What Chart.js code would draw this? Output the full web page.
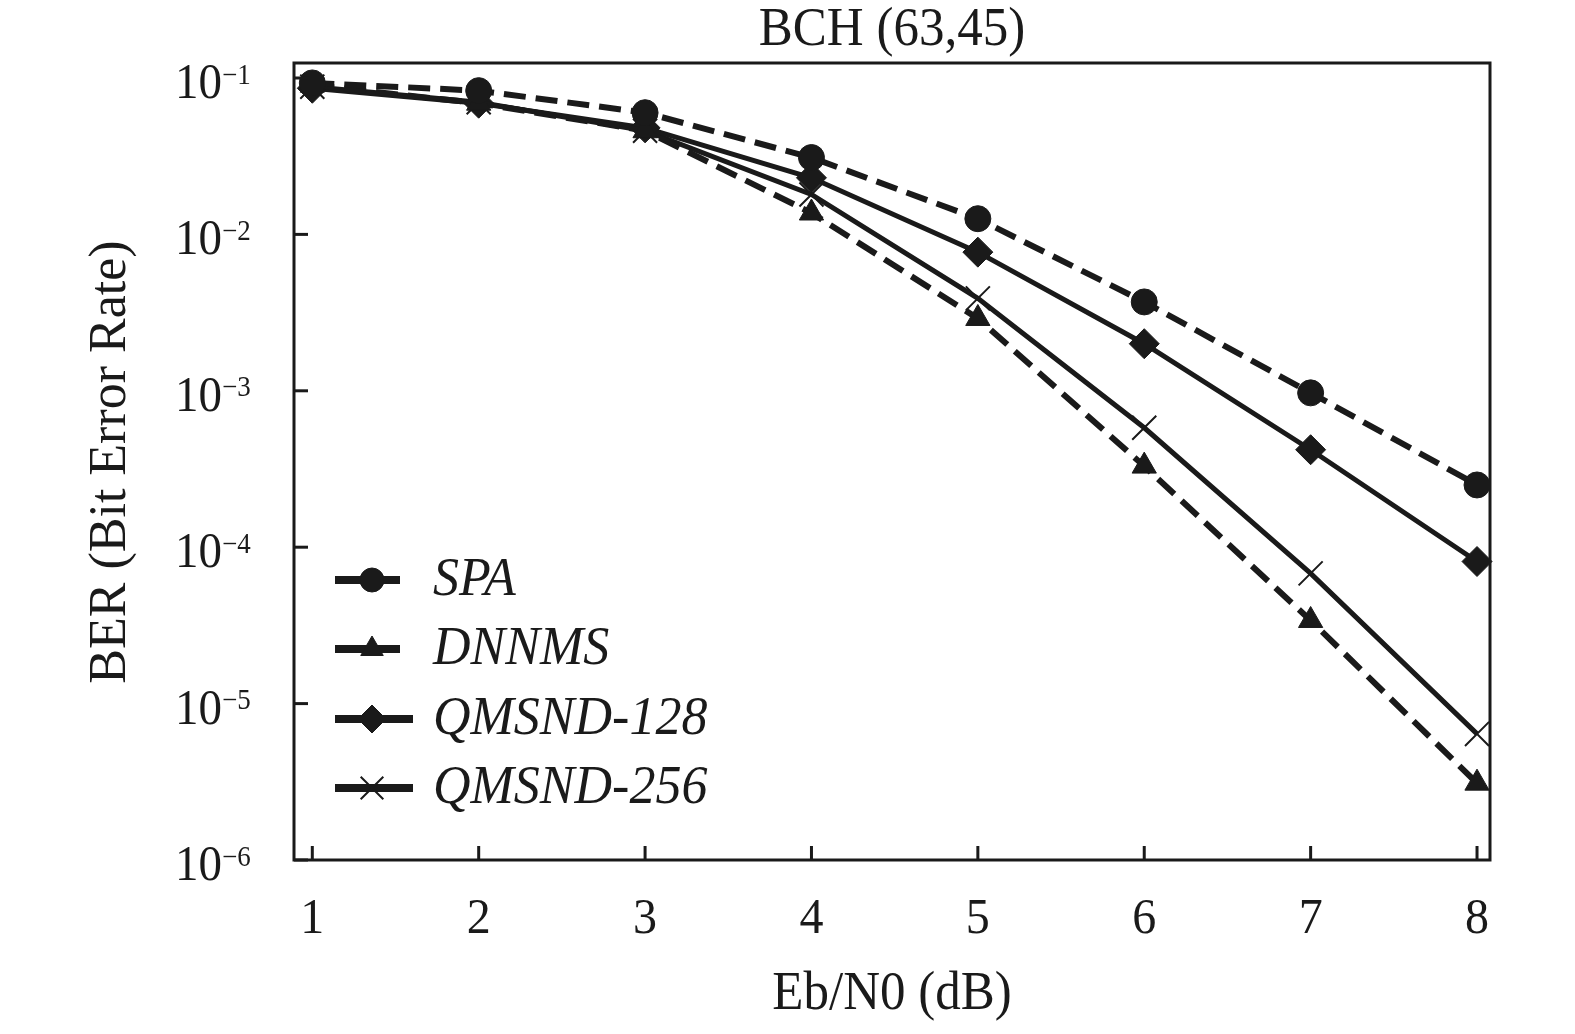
<!DOCTYPE html>
<html>
<head>
<meta charset="utf-8">
<script src="https://cdn.jsdelivr.net/npm/chart.js@4.4.1/dist/chart.umd.min.js"></script>
<style>
  html, body { margin: 0; padding: 0; background: #fff; }
  canvas { display: block; }
</style>
</head>
<body>
<canvas id="berChart" width="1575" height="1034"></canvas>
<script>
  // ===== Data =====
  const ebN0 = [1, 2, 3, 4, 5, 6, 7, 8];
  const berSPA = [0.093, 0.083, 0.060, 0.031, 0.0126, 0.0037, 0.00097, 0.00025];
  const berDNNMS = [0.090, 0.069, 0.046, 0.0137, 0.0029, 0.00033, 0.000034, 0.0000031];
  const berQ128 = [0.086, 0.069, 0.048, 0.023, 0.0077, 0.0020, 0.00042, 0.000081];
  const berQ256 = [0.088, 0.070, 0.046, 0.018, 0.0039, 0.00058, 0.000068, 0.0000064];
  const xTicks = [1, 2, 3, 4, 5, 6, 7, 8];
  const yTicks = [1e-1, 1e-2, 1e-3, 1e-4, 1e-5, 1e-6];
  const yExp = ["\u22121", "\u22122", "\u22123", "\u22124", "\u22125", "\u22126"];

  const INK = "#1a1a1a";
  const SERIF = "'Liberation Serif', 'DejaVu Serif', serif";
  const STRETCH = 1.06; // source text is a bit taller than wide

  function pts(ys) {
    return ebN0.map((x, i) => ({ x: x, y: ys[i] }));
  }

  const series = [
    { label: "SPA", data: berSPA, dash: [22, 10], style: "circle", r: 13, bw: 1, legEnd: 400 },
    { label: "DNNMS", data: berDNNMS, dash: [22, 10], style: "triangle", r: 14, bw: 1, legEnd: 400 },
    { label: "QMSND-128", data: berQ128, dash: [], style: "rectRot", r: 15, bw: 1, legEnd: 413 },
    { label: "QMSND-256", data: berQ256, dash: [], style: "crossRot", r: 17, bw: 2, legEnd: 413 }
  ];

  // text with a slight vertical stretch (horizontal text only)
  function txt(ctx, s, x, y, font, align, rot) {
    ctx.save();
    ctx.translate(x, y);
    if (rot) {
      ctx.rotate(-Math.PI / 2);
    } else {
      ctx.scale(1, STRETCH);
    }
    ctx.font = font;
    ctx.textAlign = align;
    ctx.textBaseline = "middle";
    ctx.fillText(s, 0, 0);
    ctx.restore();
  }

  // ===== Plugin: frame, inward ticks, labels, titles, legend =====
  const decor = {
    id: "decor",
    afterDraw(chart) {
      const ctx = chart.ctx;
      const a = chart.chartArea;
      const xs = chart.scales.x;
      const ys = chart.scales.y;
      ctx.save();
      ctx.fillStyle = INK;

      // frame
      ctx.strokeStyle = INK;
      ctx.lineWidth = 3;
      ctx.setLineDash([]);
      ctx.strokeRect(a.left, a.top, a.right - a.left, a.bottom - a.top);

      // y ticks + labels
      yTicks.forEach((v, i) => {
        const py = ys.getPixelForValue(v);
        ctx.beginPath();
        ctx.moveTo(a.left, py);
        ctx.lineTo(a.left + 14, py);
        ctx.stroke();
        txt(ctx, "10", 222, py + 7, "47px " + SERIF, "right");
        txt(ctx, yExp[i], 222, py - 2, "27px " + SERIF, "left");
      });

      // x ticks + labels
      xTicks.forEach(v => {
        const px = xs.getPixelForValue(v);
        ctx.beginPath();
        ctx.moveTo(px, a.bottom);
        ctx.lineTo(px, a.bottom - 14);
        ctx.stroke();
        txt(ctx, String(v), px, 920, "48px " + SERIF, "center");
      });

      // titles
      const cx = (a.left + a.right) / 2;
      txt(ctx, "BCH (63,45)", cx, 31, "51px " + SERIF, "center");
      txt(ctx, "Eb/N0 (dB)", cx, 995, "51px " + SERIF, "center");
      txt(ctx, "BER (Bit Error Rate)", 111, 462, "52px " + SERIF, "center", true);

      // legend
      const rows = [580, 649, 719, 788];
      series.forEach((s, i) => {
        const y = rows[i];
        ctx.strokeStyle = INK;
        ctx.lineWidth = 8;
        ctx.beginPath();
        ctx.moveTo(335, y);
        ctx.lineTo(s.legEnd, y);
        ctx.stroke();
        ctx.lineWidth = s.bw;
        Chart.helpers.drawPoint(ctx, { pointStyle: s.style, radius: s.r - 1, rotation: 0, borderWidth: s.bw }, 372, y);
        txt(ctx, s.label, 433, y + 1, "italic 52px " + SERIF, "left");
      });

      ctx.restore();
    }
  };

  // ===== Chart =====
  const ctx = document.getElementById("berChart").getContext("2d");
  const berChart = new Chart(ctx, {
    type: "line",
    data: {
      datasets: series.map(s => ({
        label: s.label,
        data: pts(s.data),
        borderColor: INK,
        backgroundColor: INK,
        borderWidth: s.dash.length ? 6 : 5,
        borderDash: s.dash,
        pointStyle: s.style,
        pointRadius: s.r,
        pointBorderWidth: s.bw,
        pointBackgroundColor: INK,
        pointBorderColor: INK,
        tension: 0,
        fill: false,
        clip: false
      }))
    },
    options: {
      responsive: false,
      animation: false,
      devicePixelRatio: 1,
      layout: { autoPadding: false, padding: { top: 63, right: 85, left: 0, bottom: 0 } },
      plugins: { legend: { display: false }, title: { display: false }, tooltip: { enabled: false } },
      scales: {
        x: {
          type: "linear",
          min: 0.89,
          max: 8.078,
          grid: { display: false },
          border: { display: false },
          ticks: { display: false },
          afterFit(scale) { scale.height = 174; }
        },
        y: {
          type: "logarithmic",
          min: 1e-6,
          max: 0.1247,
          grid: { display: false },
          border: { display: false },
          ticks: { display: false },
          afterBuildTicks(scale) { scale.ticks = yTicks.map(v => ({ value: v })); },
          afterFit(scale) { scale.width = 294; }
        }
      }
    },
    plugins: [decor]
  });
</script>
</body>
</html>
